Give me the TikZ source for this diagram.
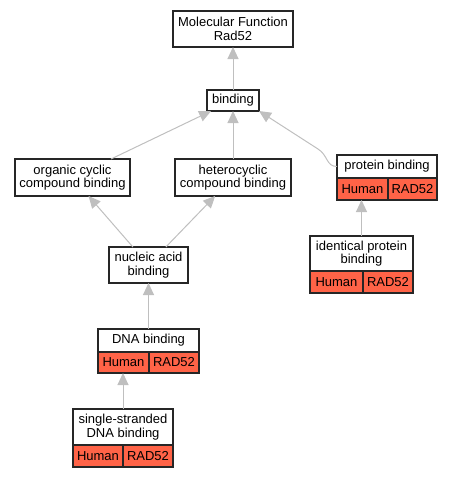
\documentclass[tikz,border=0pt]{standalone}
\usepackage{fontspec}
\setmainfont{Liberation Sans}
\usetikzlibrary{arrows.meta}
\definecolor{tomato}{RGB}{255,99,71}

\begin{document}
\begin{tikzpicture}[x=1pt, y=-1pt]
		\tikzset{
			every node/.style={
				draw=black!85,
				line width=1.2pt,
				align=center,
				inner sep=0pt,
				outer sep=0pt,
				font=\fontsize{13}{13.5}\selectfont
			},
			term/.style={
				rectangle,
				fill=white
			},
			cell/.style={
				rectangle,
				fill=tomato,
				anchor=north west,
				minimum height=22
			},
			line/.style={
				-{Triangle[length=12pt, width=11pt]},
				draw=black!25,
				line width=1pt
			}
		}

		\useasboundingbox (0,0) rectangle (452,477);

		\node[term, minimum width=120, minimum height=36] (mf) at (233, 29)
			{Molecular Function\\ Rad52};
		\node[term, minimum width=52, minimum height=21] (bind) at (233, 100.5)
			{binding};

		\node[term, minimum width=115, minimum height=37] (ocb) at (72.5, 177.5)
			{organic cyclic\\ compound binding};
		\node[term, minimum width=116, minimum height=37] (hcb) at (233, 177.5)
			{heterocyclic\\ compound binding};
		\node[term, minimum width=79, minimum height=36] (nab) at (148.5, 265)
			{nucleic acid\\ binding};

		\node[term, minimum width=100, minimum height=23] (pb) at (387, 166.5)
			{protein binding};
		\node[cell, minimum width=51] (pb-h) at (pb.south west)
			{Human};
		\node[cell, minimum width=49] (pb-r) at (pb-h.north east)
			{RAD52};

		\node[term, minimum width=103, minimum height=35] (ipb) at (361.5, 253.5)
			{identical protein\\ binding};
		\node[cell, minimum width=53] (ipb-h) at (ipb.south west)
			{Human};
		\node[cell, minimum width=50] (ipb-r) at (ipb-h.north east)
			{RAD52};

		\node[term, minimum width=101, minimum height=23] (dna) at (148.5, 340.5)
			{DNA binding};
		\node[cell, minimum width=51, minimum height=21] (dna-h) at (dna.south west)
			{Human};
		\node[cell, minimum width=50, minimum height=21] (dna-r) at (dna-h.north east)
			{RAD52};

		\node[term, minimum width=100, minimum height=36] (ss) at (123, 427)
			{single-stranded\\ DNA binding};
		\node[cell, minimum width=50] (ss-h) at (ss.south west)
			{Human};
		\node[cell, minimum width=50] (ss-r) at (ss-h.north east)
			{RAD52};

		\draw[line] (bind) -- (mf);

		\draw[line] (ocb) -- (bind);
		\draw[line] (hcb) -- (bind);
		\draw[line] (pb.west) .. controls (326, 166.5) and (328, 155) .. (318, 149) -- (bind.south east);

		\draw[line] (nab) -- (ocb);
		\draw[line] (nab) -- (hcb);

		\draw[line] (dna) -- (nab);
		\draw[line] (ss.north) -- (ss.north |- dna-h.south);
		\draw[line] (ipb.north) -- (ipb.north |- pb-h.south);

	\end{tikzpicture}
\end{document}
